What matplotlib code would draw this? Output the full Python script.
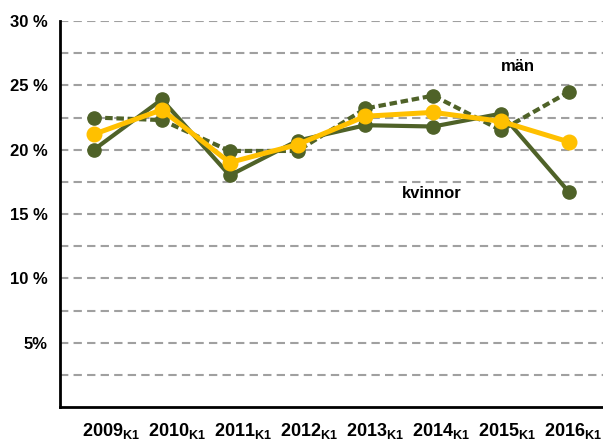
import matplotlib.pyplot as plt
from matplotlib.ticker import FixedLocator

# Data
years = ["2009", "2010", "2011", "2012", "2013", "2014", "2015", "2016"]
kvinnor = [20.0, 23.9, 18.0, 20.7, 21.9, 21.8, 22.8, 16.7]
man = [22.5, 22.3, 19.9, 19.9, 23.2, 24.2, 21.5, 24.5]
totalt = [21.2, 23.1, 19.0, 20.4, 22.6, 22.9, 22.2, 20.6]
ytick_vals = [5, 10, 15, 20, 25, 30]
ytick_labels = ["5%", "10 %", "15 %", "20 %", "25 %", "30 %"]

plt.rcParams['font.family'] = ['Liberation Sans', 'DejaVu Sans']
plt.rcParams['mathtext.fontset'] = 'custom'
plt.rcParams['mathtext.bf'] = 'Liberation Sans:bold'
plt.rcParams['mathtext.rm'] = 'Liberation Sans'

green = '#4F6228'
yellow = '#FFC000'

fig = plt.figure(figsize=(6.03, 4.41), dpi=100)
ax = fig.add_axes([60/603, 1 - 407/441, 543/603, (407-21)/441])

x = list(range(len(years)))

# Stödlinjer var 2,5 %
for g in [2.5*i for i in range(1, 13)]:
    ax.axhline(g, color='#A0A0A0', linewidth=1.5, linestyle=(0, (4, 2.5)), zorder=1)

ax.plot(x, man, color=green, linewidth=3, linestyle=(0, (1.8, 0.9)),
        marker='o', markersize=9.5, zorder=3)
ax.plot(x, kvinnor, color=green, linewidth=3, marker='o', markersize=9.5, zorder=4)
ax.plot(x, totalt, color=yellow, linewidth=3.6, marker='o', markersize=10.5, zorder=5)

ax.text(6.24, 26.5, "män", fontsize=12, fontweight='bold', ha='center', va='center')
ax.text(4.97, 16.6, "kvinnor", fontsize=12, fontweight='bold', ha='center', va='center')

ax.set_xlim(-0.5, 7.5)
ax.set_ylim(0, 30)
ax.yaxis.set_major_locator(FixedLocator(ytick_vals))
ax.set_yticklabels(ytick_labels, fontsize=12, fontweight='bold')
ax.set_xticks(x)
ax.set_xticklabels([])
ax.tick_params(axis='both', length=0)
ax.tick_params(axis='y', pad=9)

# Kategorietiketter (lite förskjutna åt höger som i originalet)
for i, yr in enumerate(years):
    ax.text(0.25 + i*0.972, -1.9, r"$\mathbf{%s}_{\mathbf{K1}}$" % yr, fontsize=13,
            ha='center', va='center', transform=ax.transData, clip_on=False)

for s in ['top', 'right']:
    ax.spines[s].set_visible(False)
ax.spines['left'].set_linewidth(2)
ax.spines['bottom'].set_linewidth(2)

fig.savefig("out.png", dpi=100)
